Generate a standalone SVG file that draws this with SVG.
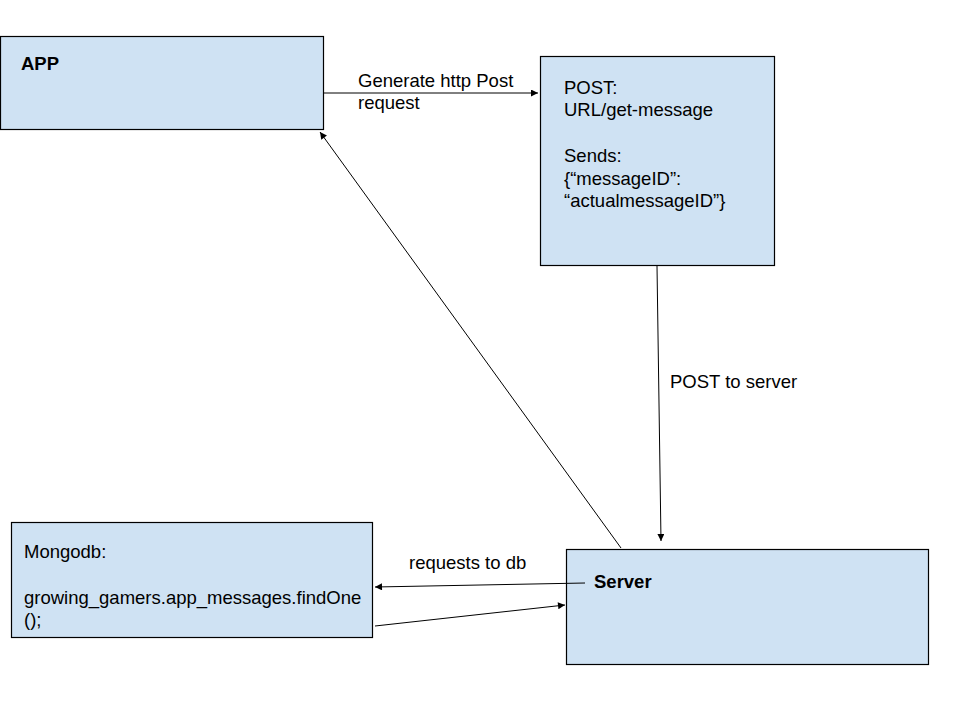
<svg xmlns="http://www.w3.org/2000/svg" width="960" height="720" viewBox="0 0 960 720">
<style>
.box{fill:#cfe2f3;stroke:#000;stroke-width:1.2}
.t{font-family:"Liberation Sans",Arial,sans-serif;font-size:18.5px;fill:#000}
.b{font-weight:bold}
.c{stroke:#000;stroke-width:1;fill:none;marker-end:url(#ah)}
</style>
<defs>
<marker id="ah" viewBox="0 0 10 10" refX="10" refY="5" markerWidth="8" markerHeight="7" markerUnits="userSpaceOnUse" orient="auto">
<path d="M0,0 L10,5 L0,10 z" fill="#000"/>
</marker>
</defs>
<rect width="960" height="720" fill="#fff"/>
<g id="app"><rect class="box" x="0.5" y="36.5" width="323" height="93"/><text class="t b" x="21" y="70">APP</text></g>
<g id="post"><rect class="box" x="540.5" y="56.5" width="234" height="209"/>
<text class="t" x="564" y="94">POST:</text>
<text class="t" x="564" y="116">URL/get-message</text>
<text class="t" x="564" y="162">Sends:</text>
<text class="t" x="564" y="185">{“messageID”:</text>
<text class="t" x="564" y="207">“actualmessageID”}</text></g>
<g id="mongodb"><rect class="box" x="11.5" y="522.5" width="361" height="115"/>
<text class="t" x="24" y="558">Mongodb:</text>
<text class="t" x="24" y="604">growing_gamers.app_messages.findOne</text>
<text class="t" x="24" y="626">();</text></g>
<g id="server"><rect class="box" x="566.5" y="549.5" width="362" height="115"/><text class="t b" x="594" y="588">Server</text></g>
<g id="connectors">
<line class="c" x1="324" y1="93" x2="538" y2="93"/>
<line class="c" x1="657" y1="266" x2="661" y2="541"/>
<line class="c" x1="621" y1="548" x2="320" y2="132"/>
<line class="c" x1="585" y1="583" x2="375" y2="587"/>
<line class="c" x1="375" y1="626" x2="565" y2="605"/>
<text class="t" x="358" y="87">Generate http Post</text>
<text class="t" x="358" y="109">request</text>
<text class="t" x="670" y="388">POST to server</text>
<text class="t" x="409" y="569">requests to db</text>
</g>
</svg>
